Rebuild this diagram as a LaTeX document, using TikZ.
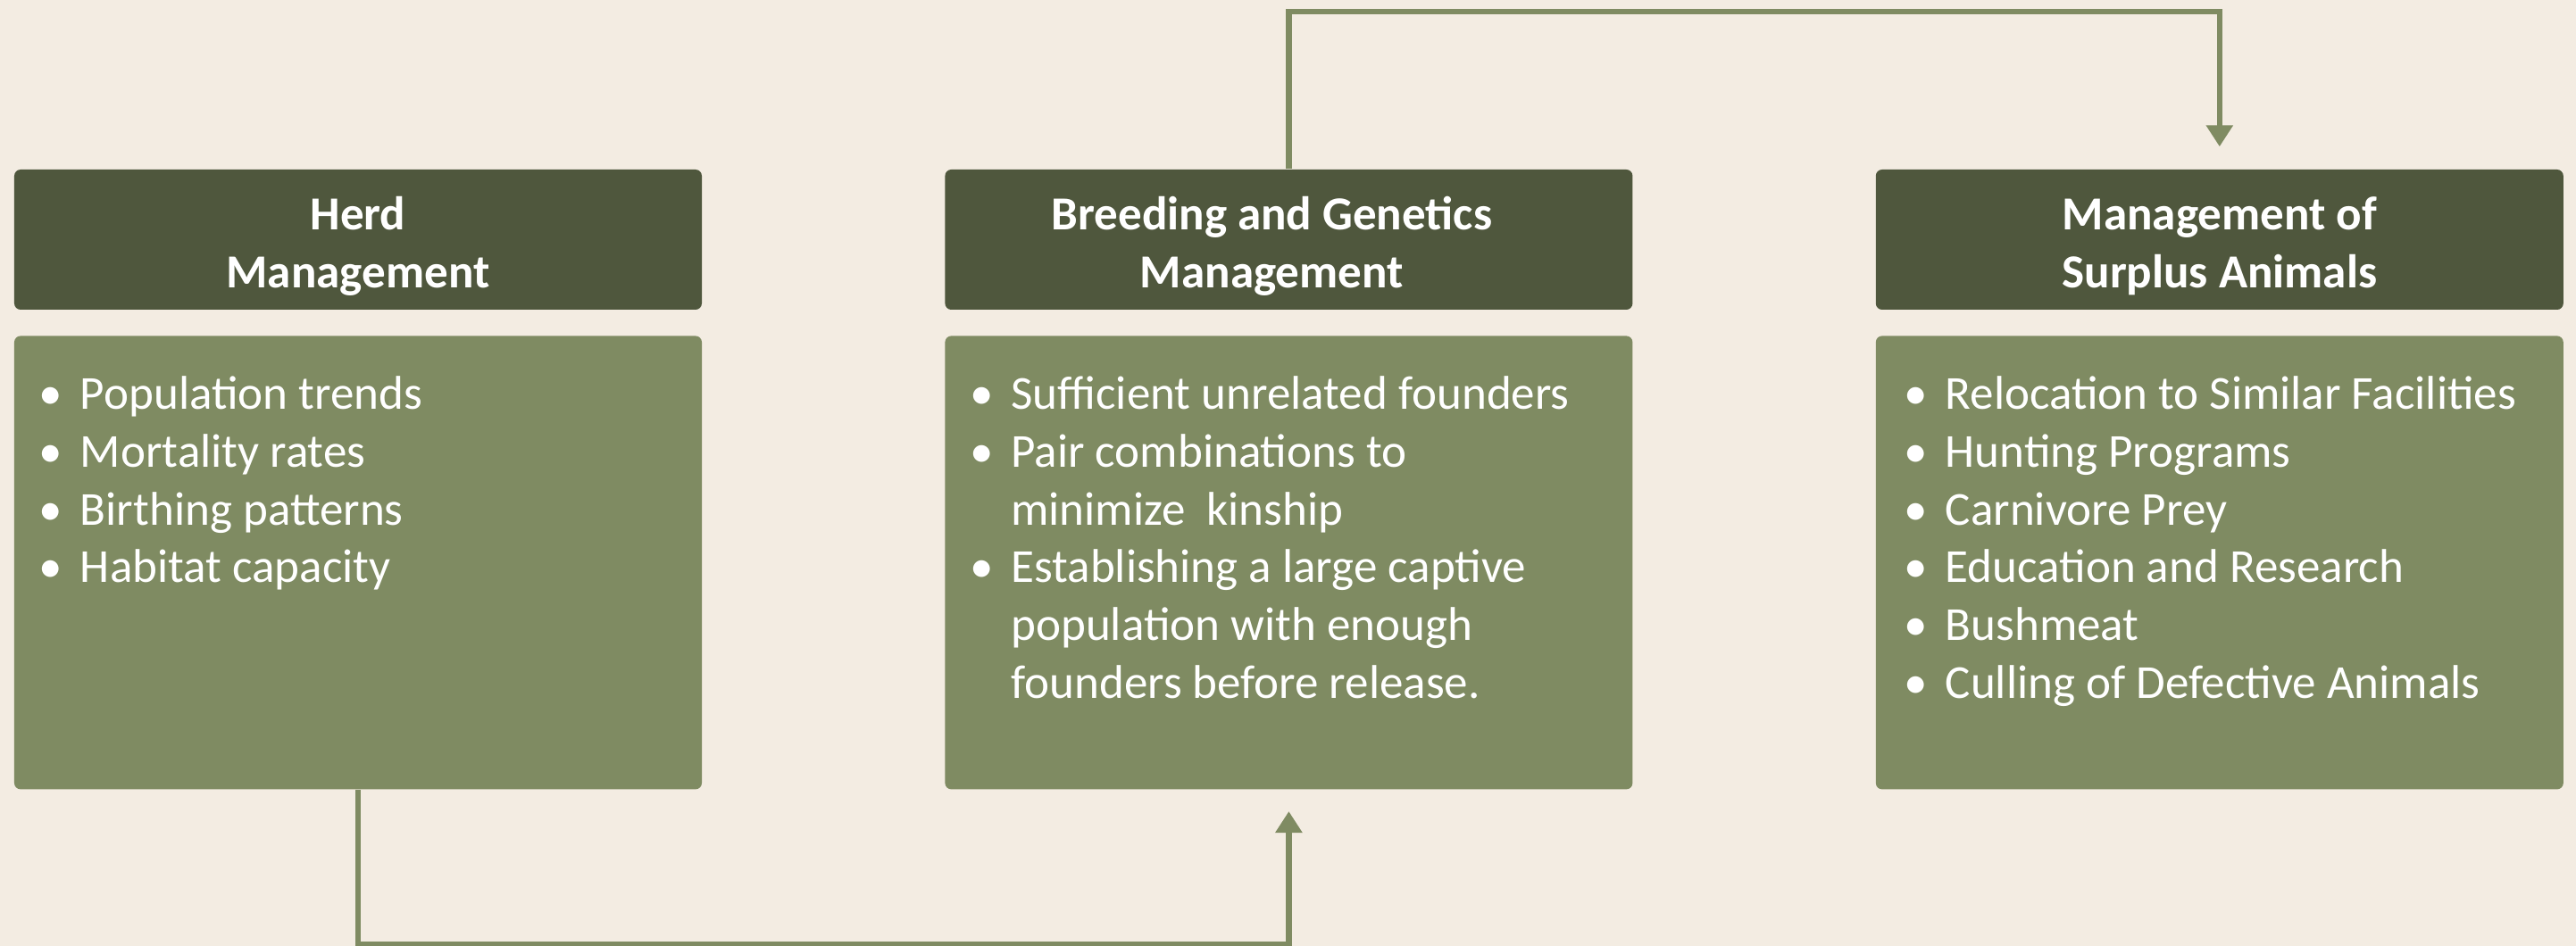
\documentclass[tikz,border=0pt]{standalone}
\usepackage{fontspec}
\setmainfont{Carlito}
\usetikzlibrary{positioning,arrows.meta}
\definecolor{hintergrund}{RGB}{243,236,226}
\definecolor{kopfgruen}{RGB}{79,87,61}
\definecolor{feldgruen}{RGB}{127,139,98}
\tikzset{
  kopf/.style={fill=kopfgruen, rounded corners=2pt, minimum width=7.7cm, minimum height=1.57cm,
    inner sep=0pt, text=white, align=center, font=\fontsize{15.1}{18.4}\selectfont\bfseries},
  feld/.style={fill=feldgruen, rounded corners=2pt, minimum width=7.7cm, minimum height=5.08cm, inner sep=0pt},
  liste/.style={inner sep=0pt, text=white, anchor=north west, font=\fontsize{15.1}{18.4}\selectfont},
  pfeil/.style={draw=feldgruen, line width=1.8pt, -{Triangle[length=0.24cm,width=0.29cm]}}
}
\begin{document}
\begin{tikzpicture}
   \fill[hintergrund] (0,0) rectangle (28.85,-10.6);
   \useasboundingbox (0,0) rectangle (28.85,-10.6);
   % Kopfzeilen
   \node[kopf] (herdkopf) at (4.01,-2.685) {\rule{0pt}{0.52cm}Herd\\Management};
   \node[kopf, right=2.71cm of herdkopf] (zuchtkopf)
     {\rule{0pt}{0.52cm}Breeding and Genetics\hspace*{0.38cm}\\Management\hspace*{0.38cm}};
   \node[kopf, right=2.71cm of zuchtkopf] (surpluskopf) {\rule{0pt}{0.52cm}Management of\\Surplus Animals};
   % Felder
   \node[feld, below=0.28cm of herdkopf] (herdfeld) {};
   \node[feld, below=0.28cm of zuchtkopf] (zuchtfeld) {};
   \node[feld, below=0.28cm of surpluskopf] (surplusfeld) {};
   % Listen
   \node[liste] (herdliste) at ([xshift=0.28cm,yshift=-0.37cm]herdfeld.north west) {%
     \begin{tabular}{@{}p{0.46cm}@{}l@{}}
       \textbullet & Population trends\\
       \textbullet & Mortality rates\\
       \textbullet & Birthing patterns\\
       \textbullet & Habitat capacity
     \end{tabular}};
   \node[liste] (zuchtliste) at ([xshift=0.28cm,yshift=-0.37cm]zuchtfeld.north west) {%
     \begin{tabular}{@{}p{0.46cm}@{}l@{}}
       \textbullet & Sufficient unrelated founders\\
       \textbullet & Pair combinations to\\
                   & minimize~~kinship\\
       \textbullet & Establishing a large captive\\
                   & population with enough\\
                   & founders before release.
     \end{tabular}};
   \node[liste] (surplusliste) at ([xshift=0.32cm,yshift=-0.37cm]surplusfeld.north west) {%
     \begin{tabular}{@{}p{0.46cm}@{}l@{}}
       \textbullet & Relocation to Similar Facilities\\
       \textbullet & Hunting Programs\\
       \textbullet & Carnivore Prey\\
       \textbullet & Education and Research\\
       \textbullet & Bushmeat\\
       \textbullet & Culling of Defective Animals
     \end{tabular}};
   % Pfeile
   \draw[pfeil, shorten >=0.25cm] (zuchtkopf.north) -- ++(0,1.76) -| (surpluskopf.north);
   \draw[pfeil, shorten >=0.24cm] (herdfeld.south) -- ++(0,-1.73) -| (zuchtfeld.south);
\end{tikzpicture}
\end{document}
